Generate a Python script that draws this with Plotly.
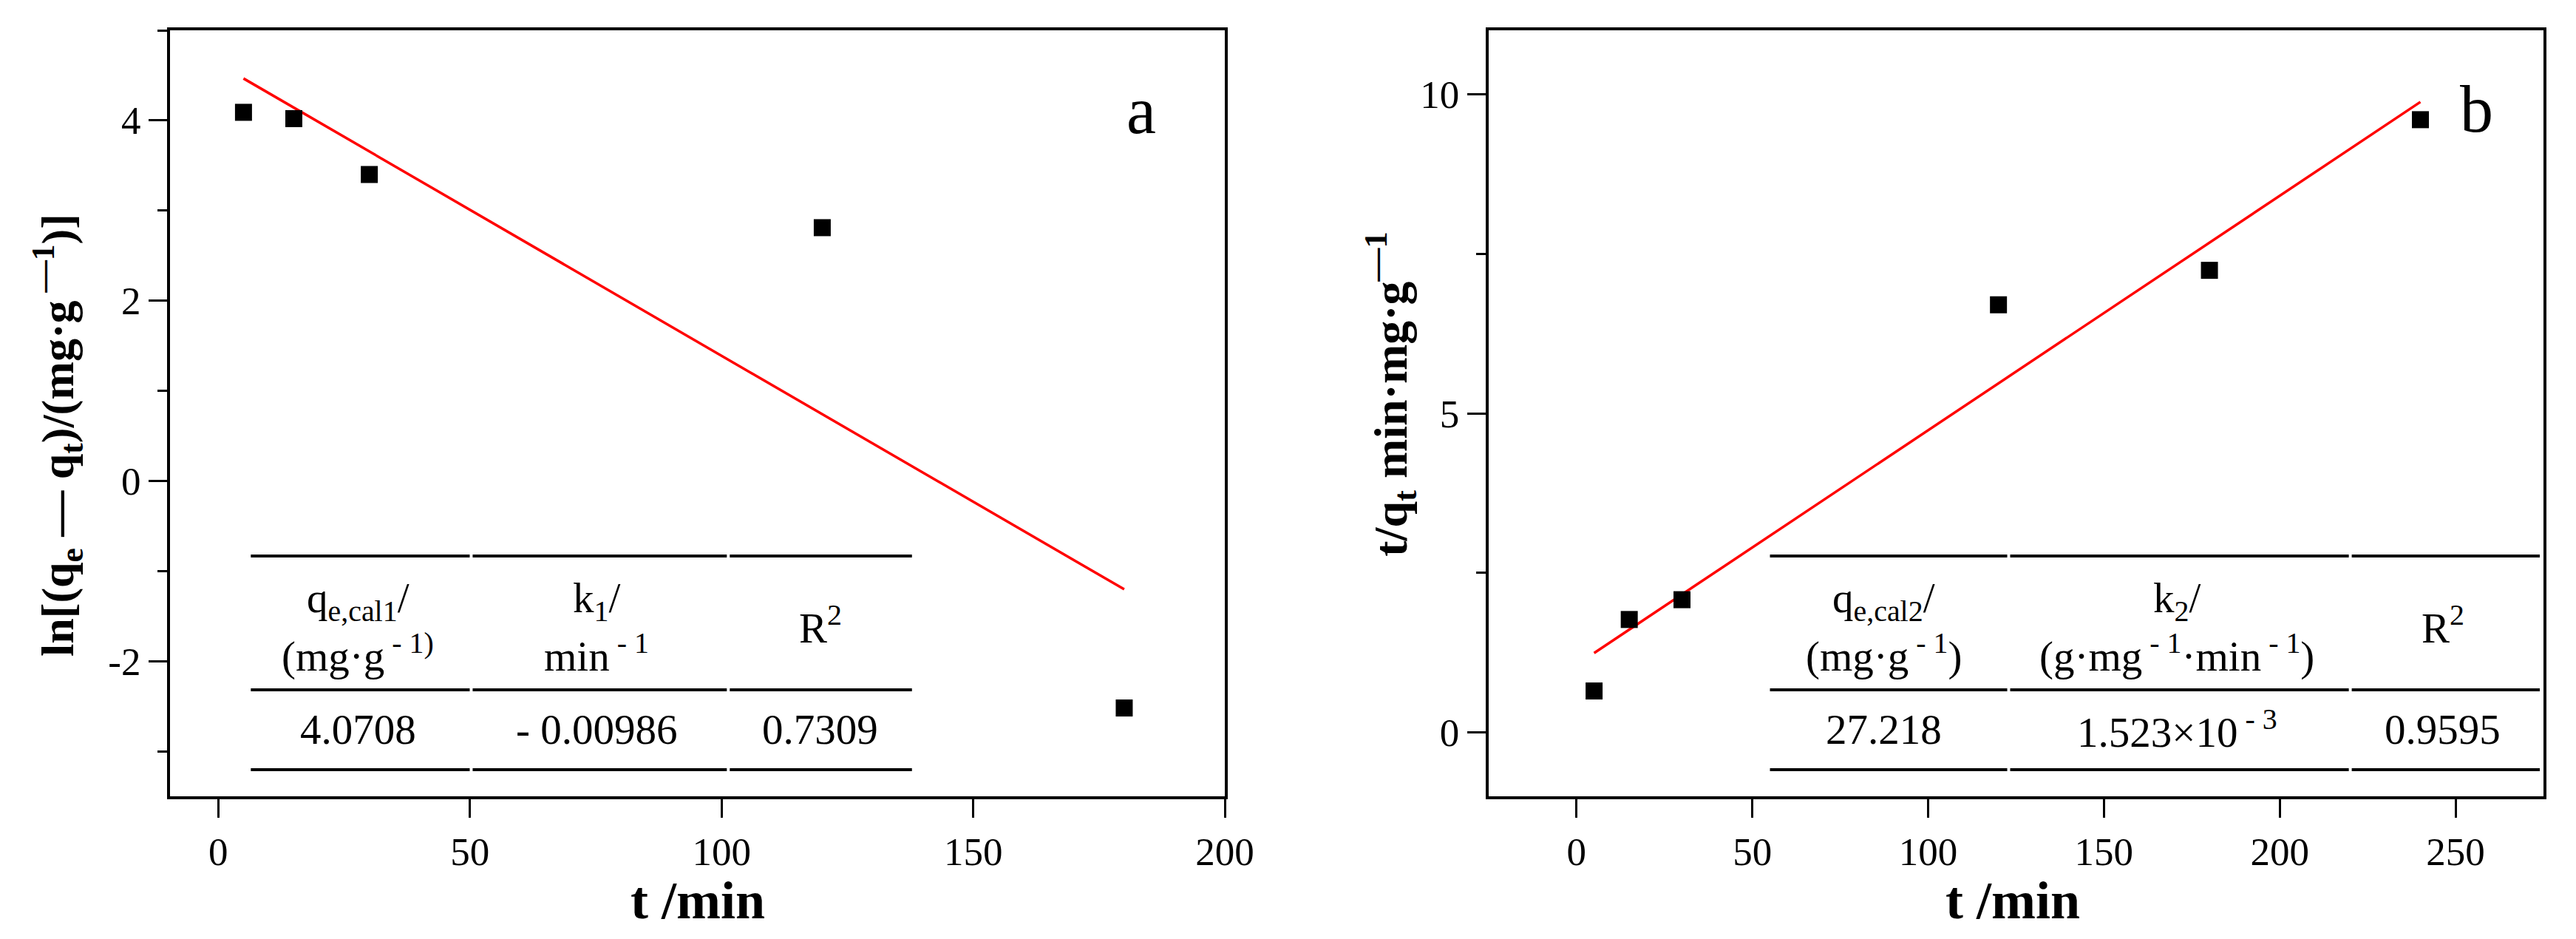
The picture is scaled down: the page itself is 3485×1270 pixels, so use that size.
import numpy as np
import plotly.graph_objects as go

# ---------------- data ----------------
t_a = [5, 15, 30, 120, 180]
y_a = [4.09, 4.02, 3.40, 2.81, -2.52]          # ln(qe - qt)
t_b = [5, 15, 30, 120, 180, 240]
y_b = [0.65, 1.77, 2.08, 6.70, 7.24, 9.60]     # t/qt

xticks_a = [0, 50, 100, 150, 200]
yticks_a = [-2, 0, 2, 4]
yticklabels_a = ["-2", "0", "2", "4"]
xticks_b = [0, 50, 100, 150, 200, 250]
yticks_b = [0, 5, 10]
yticklabels_b = ["0", "5", "10"]

table_a_head1 = ["q<sub>e,cal1</sub>/", "k<sub>1</sub>/"]
table_a_head2 = ["(mg·g<sup> - 1)</sup>", "min<sup> - 1</sup>"]
table_a_vals = ["4.0708", "- 0.00986", "0.7309"]
table_b_head1 = ["q<sub>e,cal2</sub>/", "k<sub>2</sub>/"]
table_b_head2 = ["(mg·g<sup> - 1</sup>)", "(g·mg<sup> - 1</sup>·min<sup> - 1</sup>)"]
table_b_vals = ["27.218", "1.523×10<sup> - 3</sup>", "0.9595"]
r2_head = "R<sup>2</sup>"

# ---------------- figure geometry ----------------
W, H = 3485, 1270
L, R, T, B = 222, 32, 33, 201
PW = W - L - R
PH = H - T - B

def px(x):
    return (x - L) / PW

def py(y):
    return (H - B - y) / PH

FONT = "Liberation Serif, Times New Roman, serif"

# least-squares fit lines from the data
ca = np.polyfit(t_a, y_a, 1)
cb = np.polyfit(t_b, y_b, 1)
fit_ta = [min(t_a), max(t_a)]
fit_tb = [min(t_b), max(t_b)]

fig = go.Figure()
fig.add_trace(go.Scatter(x=fit_ta, y=np.polyval(ca, fit_ta), mode="lines",
                         line=dict(color="#ff0000", width=3.5), xaxis="x", yaxis="y",
                         showlegend=False))
fig.add_trace(go.Scatter(x=t_a, y=y_a, mode="markers",
                         marker=dict(symbol="square", size=23, color="black"),
                         xaxis="x", yaxis="y", showlegend=False))
fig.add_trace(go.Scatter(x=fit_tb, y=np.polyval(cb, fit_tb), mode="lines",
                         line=dict(color="#ff0000", width=3.5), xaxis="x2", yaxis="y2",
                         showlegend=False))
fig.add_trace(go.Scatter(x=t_b, y=y_b, mode="markers",
                         marker=dict(symbol="square", size=23, color="black"),
                         xaxis="x2", yaxis="y2", showlegend=False))

axis_common = dict(showline=True, linecolor="black", linewidth=4, mirror=True,
                   ticks="outside", ticklen=25, tickwidth=3, tickcolor="black",
                   showgrid=False, zeroline=False,
                   tickfont=dict(family=FONT, size=53, color="black"))

fig.update_layout(
    width=W, height=H, autosize=False,
    margin=dict(l=L, r=R, t=T, b=B),
    paper_bgcolor="white", plot_bgcolor="white",
    font=dict(family=FONT, color="black", size=50),
    xaxis=dict(domain=[0, px(1658)], range=[-9.6, 200], tickvals=xticks_a,
               anchor="y", **axis_common),
    yaxis=dict(domain=[0, 1], range=[-3.5, 5], tickvals=yticks_a, ticktext=yticklabels_a,
               anchor="x", minor=dict(dtick=1, tick0=0, ticklen=13, tickwidth=3,
                                      tickcolor="black", ticks="outside"),
               **axis_common),
    xaxis2=dict(domain=[px(2017), 1], range=[-25, 275], tickvals=xticks_b,
                anchor="y2", **axis_common),
    yaxis2=dict(domain=[0, 1], range=[-1, 11], tickvals=yticks_b, ticktext=yticklabels_b,
                anchor="x2", minor=dict(dtick=2.5, tick0=0, ticklen=13, tickwidth=3,
                                        tickcolor="black", ticks="outside"),
                **axis_common),
)

ann = []
def add_text(x, y, text, size, bold=False, angle=0):
    if bold:
        text = "<b>" + text + "</b>"
    ann.append(dict(x=px(x), y=py(y), xref="paper", yref="paper", text=text,
                    showarrow=False, xanchor="center", yanchor="middle",
                    textangle=angle,
                    font=dict(family=FONT, size=size, color="black")))

# axis titles
add_text(940, 1210, "t /min", 72, bold=True)
add_text(2731, 1210, "t /min", 72, bold=True)
add_text(68, 580, "ln[(q<sub>e</sub> — q<sub>t</sub>)/(mg·g<sup> —1</sup>)]", 62, bold=True, angle=-90)
add_text(1883, 525, "t/q<sub>t</sub> min·mg·g<sup>—1</sup>", 64, bold=True, angle=-90)

# panel letters
add_text(1544, 141, "a", 90)
add_text(3362, 140, "b", 90)

# tables
TS = 57
cols_a = [478, 803, 1107]
cols_b = [2555, 2954, 3316]
for cols, h1, h2, vals in [(cols_a, table_a_head1, table_a_head2, table_a_vals),
                           (cols_b, table_b_head1, table_b_head2, table_b_vals)]:
    for i in range(2):
        add_text(cols[i], 805, h1[i], TS)
        add_text(cols[i], 875, h2[i], TS)
    add_text(cols[2], 837, r2_head, TS)
    for i in range(3):
        add_text(cols[i], 978, vals[i], TS)

fig.update_layout(annotations=ann)

shapes = []
def hline(x0, x1, y):
    shapes.append(dict(type="line", xref="paper", yref="paper",
                       x0=px(x0), x1=px(x1), y0=py(y), y1=py(y),
                       line=dict(color="black", width=4)))

for segs in [[(332, 630), (634, 980), (984, 1232)],
             [(2400, 2723), (2727, 3188), (3192, 3448)]]:
    for (a, b) in segs:
        for yy in (744, 925, 1033):
            hline(a, b, yy)

fig.update_layout(shapes=shapes)
fig.write_html("out.html")
